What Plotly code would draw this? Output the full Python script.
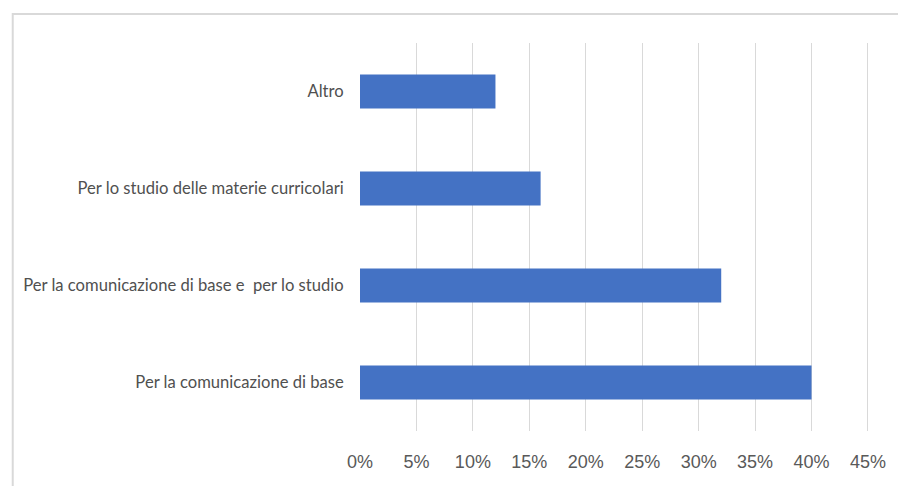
import plotly.graph_objects as go

categories = [
    "Per la comunicazione di base",
    "Per la comunicazione di base e \u00a0per lo studio",
    "Per lo studio delle materie curricolari",
    "Altro",
]
values = [0.40, 0.32, 0.16, 0.12]
tick_values = [0, 0.05, 0.10, 0.15, 0.20, 0.25, 0.30, 0.35, 0.40, 0.45]
tick_labels = ["0%", "5%", "10%", "15%", "20%", "25%", "30%", "35%", "40%", "45%"]

W, H = 898, 486
ml, mr, mt, mb = 360, 24, 43, 55
pw, ph = W - ml - mr, H - mt - mb

fig = go.Figure(
    go.Bar(
        x=values,
        y=categories,
        orientation="h",
        marker=dict(color="#4472C4", line=dict(width=0)),
        hoverinfo="skip",
    )
)

# light frame around the chart area
def px_to_paper_x(px):
    return (px - ml) / pw

def px_to_paper_y(py):
    return (H - mb - py) / ph

fig.add_shape(
    type="rect",
    xref="paper", yref="paper",
    x0=px_to_paper_x(10), x1=px_to_paper_x(W + 20),
    y0=px_to_paper_y(H + 20), y1=px_to_paper_y(14),
    line=dict(color="#D9D9D9", width=2),
    fillcolor="rgba(0,0,0,0)",
    layer="below",
)

fig.update_layout(
    width=W, height=H,
    margin=dict(l=ml, r=mr, t=mt, b=mb),
    paper_bgcolor="white",
    plot_bgcolor="white",
    bargap=0.65,
    showlegend=False,
    xaxis=dict(
        range=[0, 0.4518],
        tickvals=tick_values,
        ticktext=tick_labels,
        showgrid=True,
        gridcolor="#D9D9D9",
        gridwidth=1,
        zeroline=False,
        showline=False,
        ticks="outside",
        ticklen=14,
        tickcolor="rgba(0,0,0,0)",
        tickfont=dict(family="Liberation Sans, Arial", size=18, color="#595959"),
    ),
    yaxis=dict(
        categoryorder="array",
        categoryarray=categories,
        showgrid=False,
        zeroline=False,
        showline=False,
        ticks="outside",
        ticklen=12,
        tickcolor="rgba(0,0,0,0)",
        tickfont=dict(family="Lato, Open Sans", size=16.6, color="#505050"),
    ),
)

fig.write_html("out.html")
